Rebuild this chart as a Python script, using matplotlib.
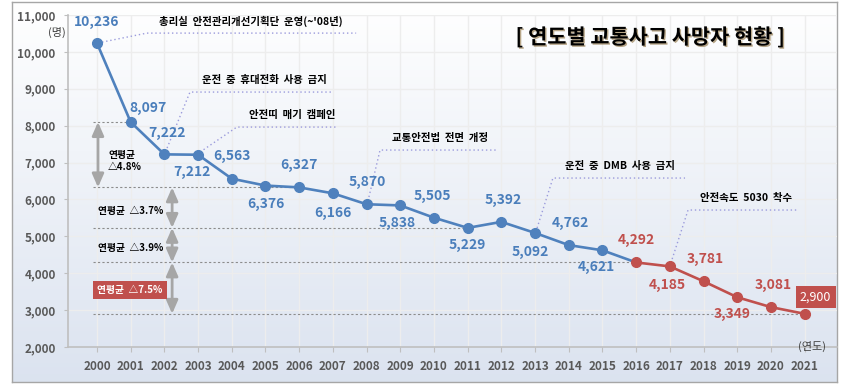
import matplotlib

matplotlib.use("Agg")
import matplotlib.pyplot as plt
import numpy as np
from matplotlib import patheffects

plt.rcParams["font.family"] = ["Noto Sans CJK KR", "DejaVu Sans"]

YEARS = list(range(2000, 2022))
DEATHS = [10236, 8097, 7222, 7212, 6563, 6376, 6327, 6166, 5870, 5838, 5505,
          5229, 5392, 5092, 4762, 4621, 4292, 4185, 3781, 3349, 3081, 2900]
SPLIT_YEAR = 2016  # line turns red from here on

# value-label offsets in pixels (dx, dy), dy positive = up
LABEL_OFFSETS = [(0, 21), (17, 14), (3, 21), (-6, -17), (0, 23), (0, -18), (0, 22),
                 (0, -20), (1, 22), (-3, -18), (-2, 22), (0, -17), (2, 22), (-5, -19),
                 (2, 22), (-6, -17), (0, 22), (-3, -19), (2, 22), (-5, -17), (2, 22),
                 (11, 17)]

# policy callouts: text, start (year, value), corner (year, value), end year
CALLOUT_TEXTS = ["총리실  안전관리개선기획단  운영(~'08년)", "운전  중  휴대전화  사용  금지",
                 "안전띠  매기  캠페인", "교통안전법  전면  개정", "운전  중  DMB  사용  금지",
                 "안전속도  5030  착수"]
CALLOUT_START = [(2000.15, 10265), (2002.08, 7393), (2003.06, 7285), (2008.07, 6065),
                 (2013.06, 5225), (2017.03, 4276)]
CALLOUT_CORNER = [(2001.48, 10509), (2002.76, 8911), (2004.15, 7962), (2008.40, 7339),
                  (2013.53, 6580), (2017.54, 5713)]
CALLOUT_END = [2007.69, 2007.0, 2007.15, 2011.90, 2017.45, 2020.77]

# average annual change over five-year periods
PERIOD_START = [2001, 2006, 2011, 2016]
PERIOD_END = [2006, 2011, 2016, 2021]
PERIOD_TEXT = ["연평균\n△4.8%", "연평균  △3.7%", "연평균  △3.9%", "연평균  △7.5%"]

BLUE = "#4f81bd"
BLUE_TXT = "#4a7ebb"
RED = "#c0504d"
PX = 0.72  # points per pixel at dpi 100

W, H = 858, 392
fig = plt.figure(figsize=(W / 100, H / 100), dpi=100)

# framed gradient backdrop
bg = fig.add_axes([12 / W, 10 / H, 825 / W, 380 / H])
top = np.array([1.0, 1.0, 1.0])
bot = np.array([0.86, 0.89, 0.94])
t = np.linspace(0, 1, 256)[:, None, None]
grad = top * (1 - t) + bot * t
bg.imshow(grad, aspect="auto", extent=[0, 1, 0, 1])
bg.set_xticks([]); bg.set_yticks([])
for s in bg.spines.values():
    s.set_color("#a6a6a6")
    s.set_linewidth(1.0)

ax = fig.add_axes([68 / W, 45 / H, 769 / W, 332 / H])
ax.patch.set_alpha(0)
ax.set_xlim(1999.14, 2021.96)
ax.set_ylim(2000, 11000)
ax.set_xticks(YEARS)
ax.set_yticks(range(2000, 11001, 1000))
ax.set_yticklabels([f"{v:,}" for v in range(2000, 11001, 1000)])
ax.grid(color="#ededed", linewidth=1.0)
ax.set_axisbelow(True)
for side in ("top", "right"):
    ax.spines[side].set_visible(False)
for side in ("left", "bottom"):
    ax.spines[side].set_color("#bfbfbf")
    ax.spines[side].set_linewidth(1.2)
ax.tick_params(axis="x", length=3.6, color="#bfbfbf", pad=6, labelsize=8.5,
               labelcolor="#595959")
ax.tick_params(axis="y", length=2.9, color="#bfbfbf", pad=6, labelsize=8.5,
               labelcolor="#595959")
for lab in ax.get_xticklabels() + ax.get_yticklabels():
    lab.set_fontweight("bold")

# the series: blue up to 2016, red afterwards
k = YEARS.index(SPLIT_YEAR)
ax.plot(YEARS[:k + 1], DEATHS[:k + 1], color=BLUE, lw=1.9, zorder=3)
ax.plot(YEARS[k:], DEATHS[k:], color=RED, lw=1.9, zorder=3)
ax.plot(YEARS[:k], DEATHS[:k], "o", color=BLUE, ms=7, zorder=4)
ax.plot(YEARS[k:], DEATHS[k:], "o", color=RED, ms=7, zorder=4)

for i, (yr, v) in enumerate(zip(YEARS, DEATHS)):
    dx, dy = LABEL_OFFSETS[i]
    col = RED if yr >= SPLIT_YEAR else BLUE_TXT
    if i == len(YEARS) - 1:
        ax.annotate(f"{v:,}", (yr, v), xytext=(dx * PX, dy * PX), textcoords="offset points",
                    ha="center", va="center", fontsize=9, color="white", zorder=6,
                    bbox=dict(boxstyle="square,pad=0.35", fc=RED, ec="none"))
    else:
        ax.annotate(f"{v:,}", (yr, v), xytext=(dx * PX, dy * PX), textcoords="offset points",
                    ha="center", va="center", fontsize=10, fontweight="bold", color=col,
                    zorder=6)

# policy callouts
for txt, s, c, e in zip(CALLOUT_TEXTS, CALLOUT_START, CALLOUT_CORNER, CALLOUT_END):
    ax.plot([s[0], c[0], e], [s[1], c[1], c[1]], ls=(0, (1, 2)), color="#9b9bdc", lw=1,
            zorder=2)
    ax.text(c[0] + 0.35, c[1] + 330, txt, ha="left", va="center", fontsize=7.5,
            fontweight="bold", color="black", zorder=5)

# average annual change guides
levels = [DEATHS[YEARS.index(PERIOD_START[0])]] + [DEATHS[YEARS.index(y)] for y in PERIOD_END]
level_years = [PERIOD_START[0]] + PERIOD_END
for yr, v in zip(level_years, levels):
    ax.plot([1999.88, yr], [v, v], ls=(0, (2, 2)), color="#8c8c8c", lw=0.8, zorder=2)

arrow_style = "<|-|>,head_length=0.8,head_width=0.35"
for j, (y0, y1) in enumerate(zip(PERIOD_START, PERIOD_END)):
    ax_x = 2000.03 if j == 0 else 2002.23
    ax.annotate("", xy=(ax_x, DEATHS[YEARS.index(y1)]), xytext=(ax_x, DEATHS[YEARS.index(y0)]),
                arrowprops=dict(arrowstyle=arrow_style, color="#a6a6a6", lw=2,
                                mutation_scale=10, shrinkA=0, shrinkB=0), zorder=3)

ax.text(2000.33, 7040, PERIOD_TEXT[0], ha="left", va="center", fontsize=7, fontweight="bold",
        linespacing=1.3, zorder=5)
ax.text(2000.03, 5686, PERIOD_TEXT[1], ha="left", va="center", fontsize=7, fontweight="bold",
        zorder=5)
ax.text(2000.03, 4683, PERIOD_TEXT[2], ha="left", va="center", fontsize=7, fontweight="bold",
        zorder=5)
ax.text(2000.98, 3545, PERIOD_TEXT[3], ha="center", va="center", fontsize=7, fontweight="bold",
        color="white", zorder=5, bbox=dict(boxstyle="square,pad=0.45", fc=RED, ec="none"))

fig.text(650 / W, 1 - 37 / H, "[ 연도별 교통사고 사망자 현황 ]", ha="center", va="center",
         fontsize=15, fontweight="heavy",
         path_effects=[patheffects.withSimplePatchShadow(offset=(1, -1),
                                                         shadow_rgbFace="#8a6d3b", alpha=0.6)])
fig.text(57 / W, 1 - 32 / H, "(명)", ha="center", va="center", fontsize=8, color="#404040")
fig.text(812 / W, 1 - 346 / H, "(연도)", ha="center", va="center", fontsize=8, color="#404040")

fig.savefig("out.png", dpi=100)
